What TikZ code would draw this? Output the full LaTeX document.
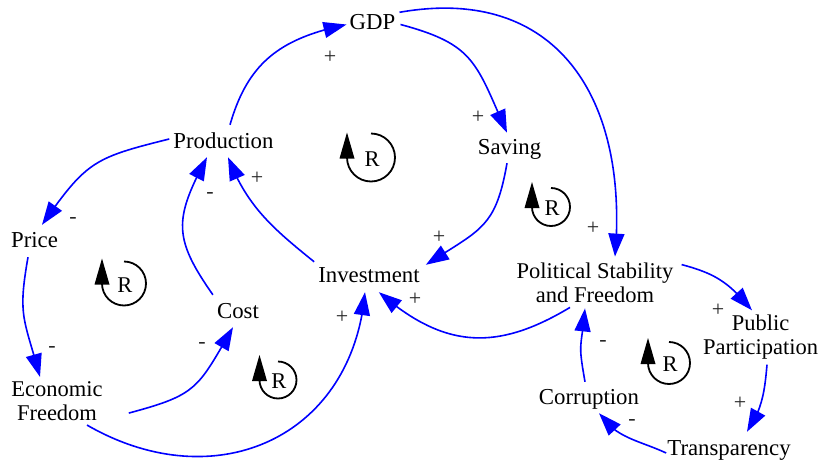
\documentclass[tikz,border=0pt]{standalone}
\usepackage{fontspec}
\setmainfont{Liberation Serif}
\usetikzlibrary{arrows.meta,bending}
\definecolor{linkblue}{RGB}{0,0,255}
\newcommand\loopicon[4]{%
  \draw[loopline] (#2,#3+#4) arc[start angle=90,end angle=-180,radius=#4];
  \fill (#2-#4-7.5,#3-1) -- (#2-#4+7.5,#3-1) -- (#2-#4,#3+25) -- cycle;
  \node[rlabel] (#1) at (#2+1,#3-1.5) {R};
}
\begin{document}
\begin{tikzpicture}[x=1pt,y=1pt,
  var/.style={font=\fontsize{22.8}{24}\selectfont, inner sep=2pt, text height=15pt, text depth=5pt},
  mvar/.style={font=\fontsize{22.5}{24}\selectfont, inner sep=2pt, align=center},
  link/.style={draw=linkblue, line width=1.6pt, -{Triangle[length=23pt,width=16pt,flex]}},
  pol/.style={font=\fontsize{22}{24}\selectfont, inner sep=0pt, text=black!85},
  loopline/.style={line width=1.8pt},
  rlabel/.style={font=\fontsize{22.5}{24}\selectfont, inner sep=0pt}]
\useasboundingbox (0,0) rectangle (822,-463);

% variables
\node[var] (gdp)   at (372.5,-24.5) {GDP};
\node[var] (sav)   at (509.5,-149.5) {Saving};
\node[var] (prod)  at (223.5,-143.5) {Production};
\node[var] (price) at (34.5,-242.5) {Price};
\node[var] (inv)   at (369,-277.5) {Investment};
\node[var] (cost)  at (238,-313.5) {Cost};
\node[var] (cor)   at (589,-399.5) {Corruption};
\node[var] (tra)   at (729,-450.5) {Transparency};
\node[mvar] (ef)   at (57,-401) {Economic\\Freedom};
\node[mvar] (ps)   at (595,-283) {Political Stability\\and Freedom};
\node[mvar] (pp)   at (760.5,-337) {Public\\Participation};

% links
\draw[link] ([shift={(6.5,6.5)}]prod.north) to[out=74,in=192,looseness=1.1] ([xshift=-1]gdp.west);
\draw[link] ([xshift=3]gdp.east) to[out=-15,in=114,looseness=1.3] ([shift={(-2.5,4.5)}]sav.north);
\draw[link] ([xshift=2]gdp.north east) to[out=10,in=85,looseness=1.25] ([shift={(20,4.3)}]ps.north);
\draw[link] ([shift={(-2.5,-1.5)}]sav.south) to[out=-100,in=33,looseness=1.3] ([shift={(4,0.5)}]inv.north east);
\draw[link] ([shift={(-2,3.5)}]inv.north west) to[out=141,in=-69,looseness=1] ([shift={(4.5,-1.5)}]prod.south);
\draw[link] ([shift={(-2,6.5)}]cost.north west) to[out=125,in=242,looseness=1.3] ([shift={(-16.5,-1.5)}]prod.south);
\draw[link] ([shift={(-2,4.5)}]prod.west) to[out=194,in=55,looseness=1.3] ([shift={(7.5,5.5)}]price.north);
\draw[link] ([shift={(-6.5,-2.5)}]price.south) to[out=-100,in=105,looseness=1.3] ([shift={(-17,2.3)}]ef.north);
\draw[link] ([shift={(24,9.7)}]ef.south east) to[out=15,in=240,looseness=1.35] ([shift={(-5,-1.5)}]cost.south);
\draw[link] ([shift={(30,-2.3)}]ef.south) to[out=-30,in=265,looseness=1.22] ([shift={(-4,-2.5)}]inv.south);
\draw[link] ([shift={(-25,-2.3)}]ps.south) to[out=211,in=319,looseness=1.15] ([shift={(-43,-2.5)}]inv.south east);
\draw[link] ([shift={(6,-3.7)}]ps.north east) to[out=-15,in=130,looseness=1.1] ([shift={(-8.5,2.3)}]pp.north);
\draw[link] ([shift={(6.5,-3.3)}]pp.south) to[out=-95,in=56,looseness=1] ([shift={(18,6.5)}]tra.north);
\draw[link] ([shift={(1,-2.5)}]tra.west) to[out=155,in=-56,looseness=1] ([shift={(10,-1.5)}]cor.south);
\draw[link] ([shift={(-4,5.5)}]cor.north) to[out=100,in=265,looseness=1.5] ([shift={(-10,-3.3)}]ps.south);

% polarities
\node[pol] (p1)  at (330,-57)  {+};
\node[pol] (p2)  at (478,-117) {+};
\node[pol] (p3)  at (593,-228) {+};
\node[pol] (p4)  at (439,-237) {+};
\node[pol] (p5)  at (257,-178) {+};
\node[pol] (p6)  at (210,-195) {-};
\node[pol] (p7)  at (73,-220)  {-};
\node[pol] (p8)  at (52,-349)  {-};
\node[pol] (p9)  at (202,-345) {-};
\node[pol] (p10) at (342,-317) {+};
\node[pol] (p11) at (415,-299) {+};
\node[pol] (p12) at (718,-310) {+};
\node[pol] (p13) at (740,-403) {+};
\node[pol] (p14) at (632,-422) {-};
\node[pol] (p15) at (603,-343) {-};

% loop markers
\loopicon{r1}{371}{-157.5}{24}
\loopicon{r2}{551}{-207}{19}
\loopicon{r3}{124}{-283.5}{22}
\loopicon{r4}{278}{-380}{18.5}
\loopicon{r5}{669}{-363}{21}
\end{tikzpicture}
\end{document}
